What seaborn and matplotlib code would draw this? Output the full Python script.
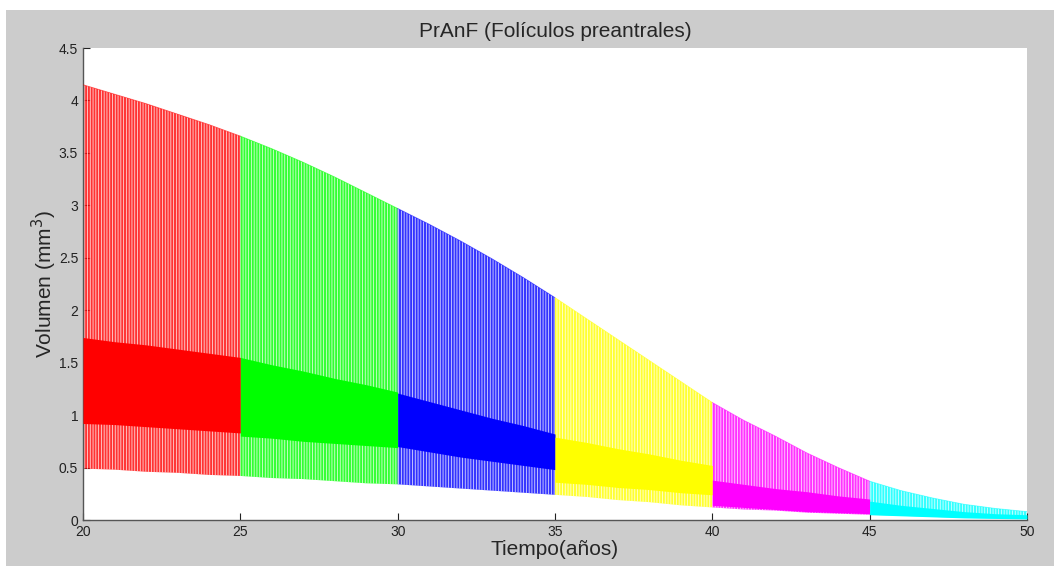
import numpy as np
import matplotlib
matplotlib.use('Agg')
import matplotlib.pyplot as plt
import seaborn as sns
from matplotlib.patches import Rectangle

# years sampled once per year
years = list(range(20, 51))

# upper and lower envelope of the oscillation (mm^3)
upper = [4.15, 4.06, 3.97, 3.87, 3.77, 3.66, 3.54, 3.41, 3.27, 3.12, 2.97,
         2.82, 2.66, 2.49, 2.31, 2.12, 1.92, 1.72, 1.52, 1.32, 1.12,
         0.95, 0.80, 0.64, 0.50, 0.37, 0.28, 0.21, 0.15, 0.11, 0.08]
lower = [0.49, 0.48, 0.46, 0.45, 0.43, 0.42, 0.40, 0.39, 0.37, 0.35, 0.34,
         0.32, 0.30, 0.28, 0.26, 0.24, 0.22, 0.19, 0.17, 0.14, 0.12,
         0.10, 0.09, 0.07, 0.06, 0.05, 0.04, 0.03, 0.02, 0.015, 0.01]

# dense band per 5-year segment (6 yearly values each)
band_hi = [[1.74, 1.70, 1.67, 1.63, 1.59, 1.55],
           [1.55, 1.48, 1.42, 1.35, 1.29, 1.22],
           [1.21, 1.13, 1.05, 0.97, 0.90, 0.82],
           [0.79, 0.74, 0.68, 0.63, 0.57, 0.52],
           [0.38, 0.34, 0.30, 0.27, 0.23, 0.20],
           [0.18, 0.14, 0.11, 0.08, 0.06, 0.05]]
band_lo = [[0.92, 0.91, 0.89, 0.87, 0.85, 0.83],
           [0.80, 0.78, 0.75, 0.73, 0.71, 0.69],
           [0.70, 0.65, 0.60, 0.56, 0.52, 0.48],
           [0.36, 0.34, 0.31, 0.29, 0.26, 0.24],
           [0.14, 0.12, 0.10, 0.08, 0.07, 0.06],
           [0.05, 0.04, 0.03, 0.02, 0.015, 0.01]]

seg_colors = ['#ff0000', '#00ff00', '#0000ff', '#ffff00', '#ff00ff', '#00ffff']

sns.set_style('ticks')
plt.rcParams['font.family'] = ['Liberation Sans', 'DejaVu Sans']
plt.rcParams['hatch.linewidth'] = 0.6

fig = plt.figure(figsize=(10.54, 5.66), dpi=100, facecolor='white')
fig.patches.append(Rectangle((6 / 1054, 0), 1, 556 / 566, transform=fig.transFigure,
                             facecolor='#cccccc', edgecolor='none', zorder=-10))
ax = fig.add_axes([83 / 1054, 46 / 566, 944 / 1054, 472 / 566])
ax.set_facecolor('white')

for i, col in enumerate(seg_colors):
    t = years[i * 5:i * 5 + 6]
    up = upper[i * 5:i * 5 + 6]
    lo = lower[i * 5:i * 5 + 6]
    # sparse spikes: colour with thin white gaps
    ax.fill_between(t, lo, up, facecolor=col, alpha=0.8, edgecolor='white',
                    hatch='||||||', linewidth=0, zorder=2)
    # dense band
    ax.fill_between(t, band_lo[i], band_hi[i], facecolor=col, linewidth=0, zorder=4)
    sns.lineplot(x=t, y=up, color=col, linewidth=0.6, alpha=0.5, ax=ax, zorder=5)

ax.set_xlim(20, 50)
ax.set_ylim(0, 4.5)
ax.set_xticks(range(20, 51, 5))
ax.set_yticks(np.arange(0, 4.51, 0.5))
ax.set_yticklabels(['0', '0.5', '1', '1.5', '2', '2.5', '3', '3.5', '4', '4.5'])
ax.tick_params(direction='in', length=5, width=0.8, labelsize=10, colors='#222222')
sns.despine(ax=ax)
for s in ['left', 'bottom']:
    ax.spines[s].set_color('#555555')
    ax.spines[s].set_linewidth(1.0)

ax.set_title('PrAnF (Folículos preantrales)', fontsize=15, pad=8)
ax.set_xlabel('Tiempo(años)', fontsize=15, labelpad=1)
ax.set_ylabel('Volumen (mm$^3$)', fontsize=15, labelpad=0)

fig.savefig('out.png', dpi=100, facecolor=fig.get_facecolor())
